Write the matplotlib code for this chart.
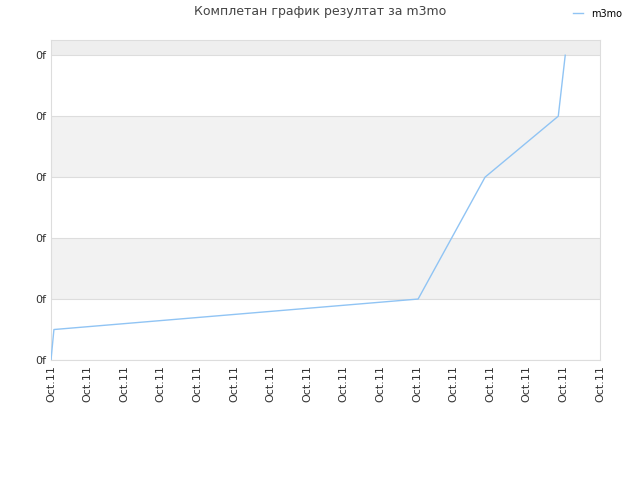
import matplotlib
matplotlib.use("Agg")
import matplotlib.pyplot as plt

x_vals = [0, 0.08, 10.03, 11.86, 13.86, 14.05]
y_vals = [0, 0.5, 1.0, 3.0, 4.0, 5.0]
x_ticks = list(range(16))
x_labels = ["Oct.11"] * 16
y_ticks = [0, 1, 2, 3, 4, 5]
y_labels = ["0f"] * 6

fig = plt.figure(figsize=(6.4, 4.8), dpi=100)
ax = fig.add_axes([51/640, 1-360/480, 549/640, 320/480])
ax.set_xlim(0, 15)
ax.set_ylim(0, 5.25)
for lo, hi, c in [(1, 2, "#f2f2f2"), (3, 4, "#f2f2f2"), (5, 5.25, "#eeeeee")]:
    ax.axhspan(lo, hi, color=c, lw=0, zorder=0)
for y in y_ticks:
    ax.axhline(y, color="#dddddd", lw=0.8, zorder=1)
ax.plot(x_vals, y_vals, color="#90c4f4", lw=1, label="m3mo", zorder=3)
ax.set_xticks(x_ticks)
ax.set_xticklabels(x_labels, rotation=90, fontsize=8, color="#333333")
ax.set_yticks(y_ticks)
ax.set_yticklabels(y_labels, fontsize=8, color="#333333")
ax.tick_params(length=0)
for s in ax.spines.values():
    s.set_color("#dddddd")
fig.text(0.5, 1-12/480, "Комплетан график резултат за m3mo", ha="center", va="center", fontsize=9, color="#444444")
fig.legend(loc="upper right", bbox_to_anchor=(0.985, 1.0), frameon=False, fontsize=7, handlelength=1)
fig.savefig("out.png", dpi=100)
